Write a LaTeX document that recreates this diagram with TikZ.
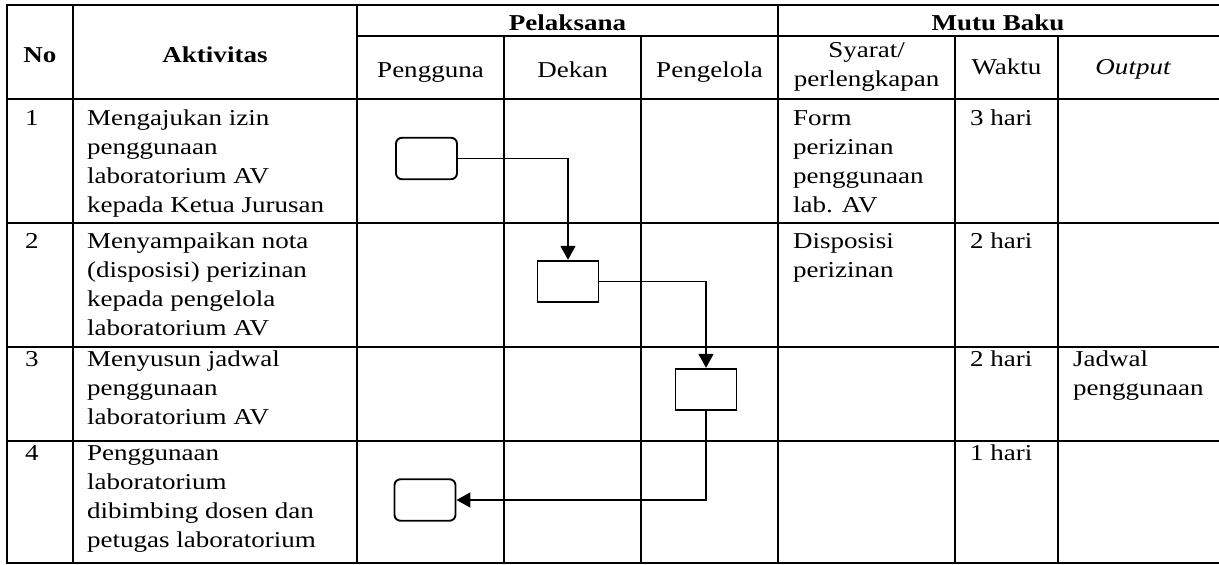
\documentclass[tikz,border=0pt]{standalone}
\usepackage{fontspec}
\setmainfont{Liberation Serif}[FakeStretch=1.19]
\usetikzlibrary{arrows.meta}
\newcommand{\cellfont}{\fontsize{22.7}{29.3}\selectfont}
\newcommand{\celllines}[4]{%
  \foreach \txtline [count=\i] in {#4} {\node[txt] (#1-\i) at (#2,{#3+29.3*(\i-1)}) {\txtline};}}
\begin{document}
\begin{tikzpicture}[x=1pt,y=-1pt,
  grid/.style={line width=1.8pt, line cap=rect},
  box/.style={draw, line width=1.9pt, minimum width=61pt, minimum height=41.5pt, inner sep=0pt},
  rbox/.style={box, rounded corners=6pt},
  conn/.style={line width=1.8pt, -{Triangle[length=14pt,width=15pt]}},
  txt/.style={anchor=base west, inner sep=0pt, font=\cellfont},
  hdr/.style={anchor=base, inner sep=0pt, font=\cellfont\bfseries},
  sub/.style={anchor=base, inner sep=0pt, font=\cellfont}]
\useasboundingbox (0,0) rectangle (1219,565);
% table grid
\draw[grid] (7,5) -- (1220,5);
\draw[grid] (357,36) -- (1220,36);
\foreach \yy in {99,223,347,441,563} {\draw[grid] (7,\yy) -- (1220,\yy);}
\foreach \xx in {7,73,357,778} {\draw[grid] (\xx,5) -- (\xx,563);}
\foreach \xx in {504,641,955,1058} {\draw[grid] (\xx,36) -- (\xx,563);}
% header
\node[hdr] (hNo) at (40,62) {No};
\node[hdr] (hAkt) at (215,62) {Aktivitas};
\node[hdr] (hPel) at (567.5,30) {Pelaksana};
\node[hdr] (hMutu) at (998,30) {Mutu Baku};
\node[sub] (hPg) at (430.5,77) {Pengguna};
\node[sub] (hDk) at (572.5,77) {Dekan};
\node[sub] (hPl) at (709.5,77) {Pengelola};
\node[sub] (hSy1) at (866.5,57) {Syarat/};
\node[sub] (hSy2) at (866.5,86) {perlengkapan};
\node[sub] (hWk) at (1006.5,74) {Waktu};
\node[sub,font=\cellfont\itshape] (hOut) at (1133,74) {Output};
% row 1
\node[txt] (n1) at (25,125) {1};
\celllines{a1}{87}{125}{Mengajukan izin,penggunaan,laboratorium AV,kepada Ketua Jurusan}
\celllines{s1}{793}{125}{Form,perizinan,penggunaan,lab. AV}
\node[txt] (w1) at (970,125) {3 hari};
% row 2
\node[txt] (n2) at (25,248) {2};
\celllines{a2}{87}{248}{Menyampaikan nota,(disposisi) perizinan,kepada pengelola,laboratorium AV}
\celllines{s2}{793}{248}{Disposisi,perizinan}
\node[txt] (w2) at (970,248) {2 hari};
% row 3
\node[txt] (n3) at (25,366) {3};
\celllines{a3}{87}{366}{Menyusun jadwal,penggunaan,laboratorium AV}
\node[txt] (w3) at (970,366) {2 hari};
\celllines{o3}{1073}{366}{Jadwal,penggunaan}
% row 4
\node[txt] (n4) at (25,460) {4};
\celllines{a4}{87}{460}{Penggunaan,laboratorium,dibimbing dosen dan,petugas laboratorium}
\node[txt] (w4) at (970,460) {1 hari};
% flow boxes
\node[rbox] (b1) at (426.5,158.5) {};
\node[box]  (b2) at (568,281.5) {};
\node[box]  (b3) at (706,389.5) {};
\node[rbox] (b4) at (425,500) {};
% connectors
\draw[conn] (b1.east) -| (b2.north);
\draw[conn] (b2.east) -| (b3.north);
\draw[conn] (b3.south) |- (b4.east);
\end{tikzpicture}
\end{document}
